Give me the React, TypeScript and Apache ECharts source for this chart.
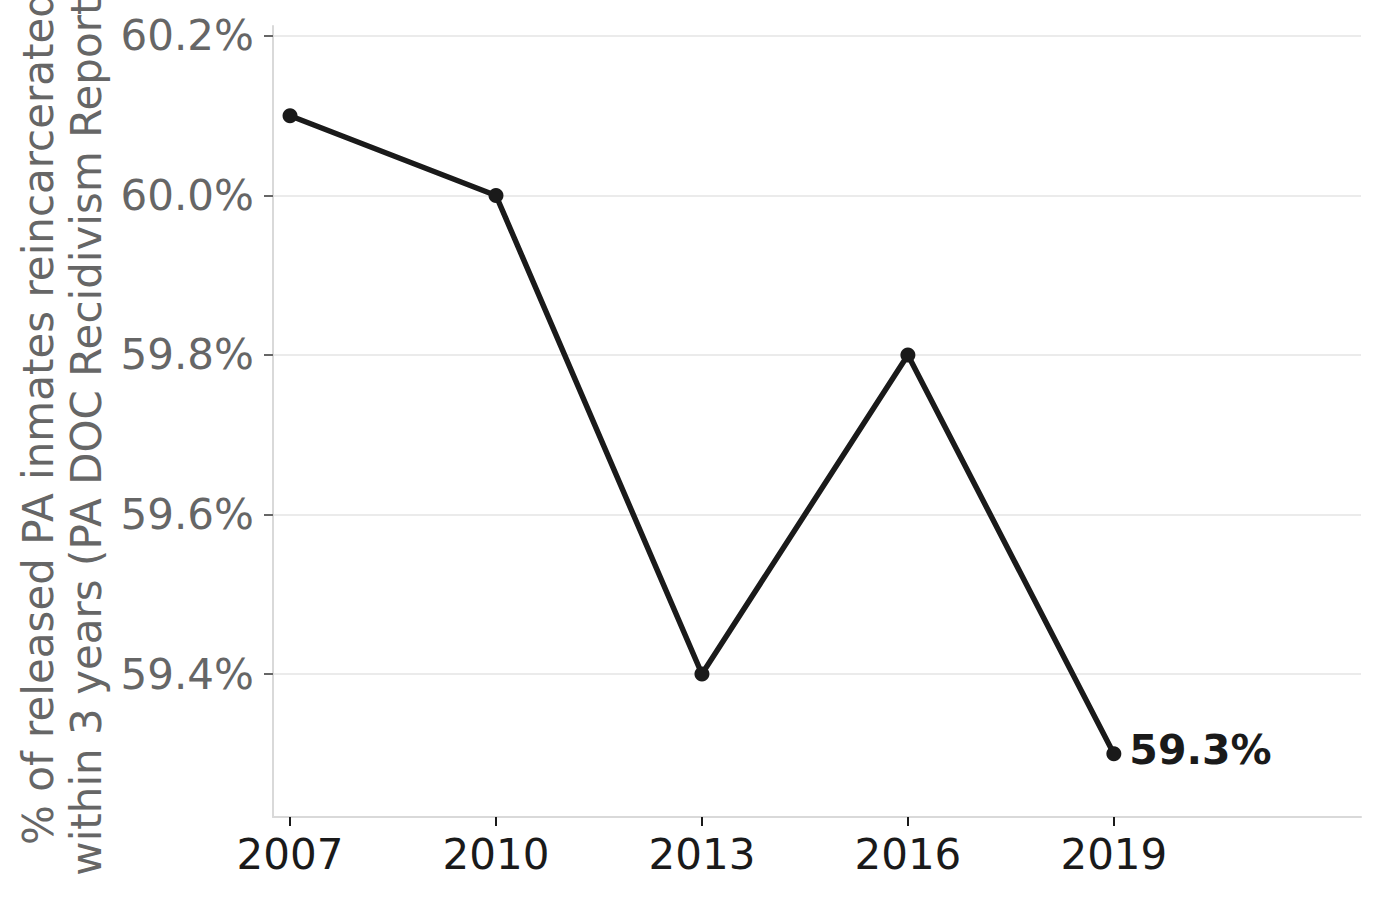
import { useEffect, useRef } from 'react'
import * as echarts from 'echarts'

// Three-year reincarceration rate by release year
const years = [2007, 2010, 2013, 2016, 2019]
const rates = [60.1, 60.0, 59.4, 59.8, 59.3]
const yTicks = [59.4, 59.6, 59.8, 60.0, 60.2]
const yLabelLines = [
  '% of released PA inmates reincarcerated',
  'within 3 years (PA DOC Recidivism Reports)'
]

const FONT = '"DejaVu Sans", sans-serif'

export default function App() {
  const chartRef = useRef<HTMLDivElement>(null)

  useEffect(() => {
    if (!chartRef.current) return
    const chart = echarts.init(chartRef.current, null, { renderer: 'svg' })

    const last = rates.length - 1
    const points = years.map((y, i) =>
      i === last
        ? {
            value: [y, rates[i]],
            label: {
              show: true,
              position: 'right',
              distance: 9,
              offset: [-1, -4],
              formatter: `${rates[i].toFixed(1)}%`,
              fontFamily: FONT,
              fontSize: 41,
              fontWeight: 'bold',
              color: '#1a1a1a'
            }
          }
        : [y, rates[i]]
    )

    const option = {
      animation: false,
      grid: { left: 273, right: 19, top: 26, bottom: 82, containLabel: false },
      xAxis: {
        type: 'value',
        min: 2006.752,
        max: 2022.6,
        axisLine: { lineStyle: { color: '#d9d9d9', width: 2 } },
        axisTick: {
          customValues: years,
          length: 9,
          lineStyle: { color: '#1a1a1a', width: 2 }
        },
        axisLabel: {
          customValues: years,
          margin: 16,
          fontFamily: FONT,
          fontSize: 42,
          color: '#1a1a1a',
          formatter: (v: number) => String(v)
        },
        splitLine: { show: false }
      },
      yAxis: {
        type: 'value',
        min: 59.2207,
        max: 60.2125,
        axisLine: { show: true, lineStyle: { color: '#d9d9d9', width: 2 } },
        axisTick: {
          show: true,
          customValues: yTicks,
          length: 9,
          lineStyle: { color: '#666666', width: 2 }
        },
        axisLabel: {
          customValues: yTicks,
          margin: 19,
          fontFamily: FONT,
          fontSize: 42,
          color: '#666666',
          formatter: (v: number) => `${v.toFixed(1)}%`
        },
        splitLine: { show: true, lineStyle: { color: '#ebebeb', width: 2 } }
      },
      graphic: [
        {
          type: 'text',
          x: 62,
          y: 418,
          rotation: Math.PI / 2,
          style: {
            text: yLabelLines.join('\n'),
            fontFamily: FONT,
            fontSize: 42,
            lineHeight: 48,
            fill: '#666666',
            textAlign: 'center',
            textVerticalAlign: 'middle'
          }
        }
      ],
      series: [
        {
          type: 'line',
          data: points,
          symbol: 'circle',
          symbolSize: 15,
          showAllSymbol: true,
          lineStyle: { color: '#1a1a1a', width: 5.5 },
          itemStyle: { color: '#1a1a1a' }
        }
      ]
    }

    chart.setOption(option)
    return () => chart.dispose()
  }, [])

  return (
    <div
      ref={chartRef}
      style={{ position: 'absolute', left: 0, top: 0, width: 1380, height: 899 }}
    />
  )
}
